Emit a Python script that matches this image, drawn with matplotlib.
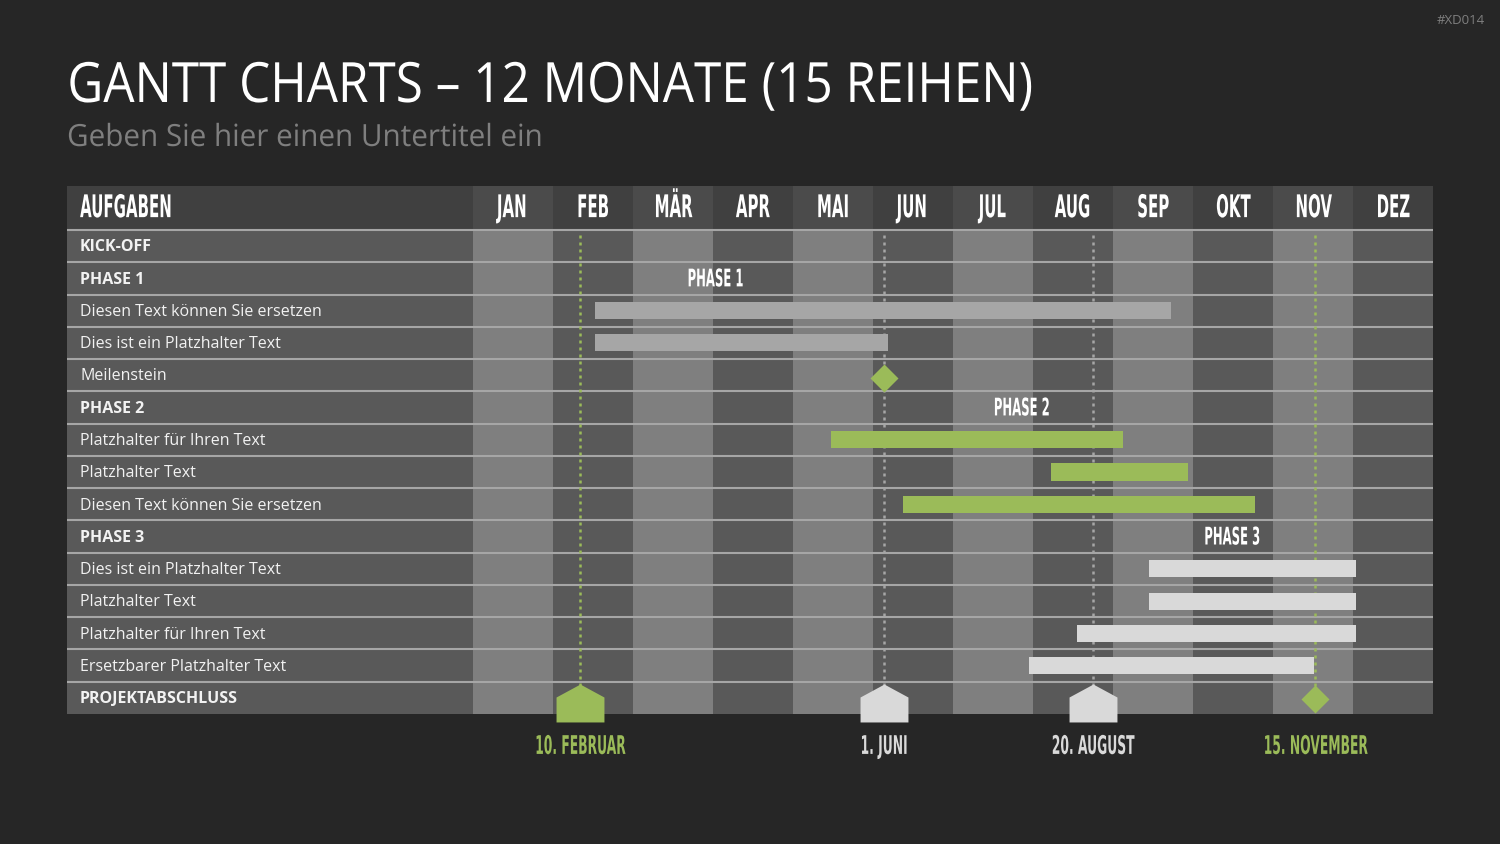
import matplotlib.pyplot as plt
from matplotlib.path import Path
from matplotlib.patheffects import AbstractPathEffect
from matplotlib.transforms import Affine2D
import numpy as np

# data
months = ["JAN", "FEB", "MÄR", "APR", "MAI", "JUN", "JUL", "AUG", "SEP", "OKT", "NOV", "DEZ"]
tasks = ["KICK-OFF", "PHASE 1", "Diesen Text können Sie ersetzen", "Dies ist ein Platzhalter Text",
         "Meilenstein", "PHASE 2", "Platzhalter für Ihren Text", "Platzhalter Text",
         "Diesen Text können Sie ersetzen", "PHASE 3", "Dies ist ein Platzhalter Text",
         "Platzhalter Text", "Platzhalter für Ihren Text", "Ersetzbarer Platzhalter Text",
         "PROJEKTABSCHLUSS"]
bold_rows = [0, 1, 5, 9, 14]

# bars in month units (0 = start of January)
p1_rows = [2, 3]
p1_start = [1.52, 1.52]
p1_end = [8.72, 5.19]
p2_rows = [6, 7, 8]
p2_start = [4.47, 7.22, 5.37]
p2_end = [8.12, 8.94, 9.77]
p3_rows = [10, 11, 12, 13]
p3_start = [8.45, 8.45, 7.55, 6.95]
p3_end = [11.04, 11.04, 11.04, 10.51]

phase_labels = ["PHASE 1", "PHASE 2", "PHASE 3"]
phase_rows = [1, 5, 9]
phase_x = [3.03, 6.86, 9.49]

milestone_row = 4
milestone_x = 5.14

end_dates = ["10. FEBRUAR", "1. JUNI", "20. AUGUST", "15. NOVEMBER"]
end_x = [1.34, 5.14, 7.75, 10.53]
end_kind = ["house", "house", "house", "diamond"]
end_color = ["green", "light", "light", "green"]

BG = "#262626"
GREEN = "#9bbb59"
LIGHT = "#d9d9d9"
GRAY = "#a6a6a6"
COND = ["DejaVu Sans"]
BODY = ["Open Sans", "DejaVu Sans"]
cmap = {"green": GREEN, "light": LIGHT}


class Squeeze(AbstractPathEffect):
    # narrow the glyphs horizontally (no condensed font available)
    def __init__(self, sx, anchor="center"):
        super().__init__()
        self.sx = sx
        self.anchor = anchor

    def draw_path(self, renderer, gc, tpath, affine, rgbFace=None):
        ext = tpath.get_extents(affine)
        x = ext.x0 if self.anchor == "left" else (ext.x0 + ext.x1) / 2
        t = affine + Affine2D().translate(-x, 0).scale(self.sx, 1).translate(x, 0)
        renderer.draw_path(gc, tpath, t, rgbFace)


SQ = [Squeeze(0.48)]
SQL = [Squeeze(0.48, "left")]

fig = plt.figure(figsize=(15, 8.44), dpi=100, facecolor=BG)
ax = fig.add_axes([67 / 1500, 130 / 844, 1366 / 1500, 528 / 844])
ax.set_facecolor(BG)
x0 = -406 / 80
ytop = -0.5 - 44 / 32.27
ax.set_xlim(x0, 12)
ax.set_ylim(14.5, ytop)
ax.axis("off")

# background blocks
ax.axvspan(x0, 0, color="#595959", lw=0, zorder=0)
for m in range(12):
    c = "#7f7f7f" if m % 2 == 0 else "#595959"
    ax.axvspan(m, m + 1, color=c, lw=0, zorder=0)
ax.fill_between([x0, 12], ytop, -0.5, color="#404040", lw=0, zorder=1)
for m in range(0, 12, 2):
    ax.fill_between([m, m + 1], ytop, -0.5, color="#4b4b4b", lw=0, zorder=1)

for i in range(15):
    ax.axhline(i - 0.5, color=GRAY, lw=1.5, zorder=2)

# header
hy = (ytop - 0.5) / 2 + 0.02
ax.text(x0 + 13 / 80, hy, "AUFGABEN", color="white", fontsize=22.5,
        fontweight="bold", family=COND, va="center", ha="left", path_effects=SQL)
for m, name in enumerate(months):
    ax.text(m + 0.5, hy, name, color="white", fontsize=22.5,
            fontweight="bold", family=COND, va="center", ha="center", path_effects=SQ)

# row labels
for i, t in enumerate(tasks):
    ax.text(x0 + 13 / 80, i + 0.04, t, color="#f2f2f2", fontsize=11.5, family=BODY,
            fontweight="bold" if i in bold_rows else "normal", va="center", ha="left", zorder=5)

# vertical dotted milestone lines
for x, c in zip(end_x, end_color):
    lc = GREEN if c == "green" else GRAY
    ax.plot([x, x], [-0.35, 13.9], color=lc, lw=1.8, ls=(0, (1.2, 1.6)), zorder=3)

# bars
h = 0.53
ax.barh(p1_rows, np.subtract(p1_end, p1_start), left=p1_start, height=h, color=GRAY, zorder=4)
ax.barh(p2_rows, np.subtract(p2_end, p2_start), left=p2_start, height=h, color=GREEN, zorder=4)
ax.barh(p3_rows, np.subtract(p3_end, p3_start), left=p3_start, height=h, color=LIGHT, zorder=4)

for lab, r, x in zip(phase_labels, phase_rows, phase_x):
    ax.text(x, r + 0.03, lab, color="white", fontsize=17.5, fontweight="bold", family=COND,
            va="center", ha="center", zorder=5, path_effects=SQ)

ax.plot(milestone_x, milestone_row + 0.08, marker="D", ms=14, color=GREEN, mec="none", zorder=5)

# end markers
house = Path([(0, 19), (24, 6), (24, -19), (-24, -19), (-24, 6), (0, 19)],
             [Path.MOVETO, Path.LINETO, Path.LINETO, Path.LINETO, Path.LINETO, Path.CLOSEPOLY])
for x, k, c in zip(end_x, end_kind, end_color):
    if k == "house":
        ax.plot(x, 14.16, marker=house, ms=34.5, color=cmap[c], mec="none", zorder=6, clip_on=False)
    else:
        ax.plot(x, 14.03, marker="D", ms=14, color=cmap[c], mec="none", zorder=6, clip_on=False)

for x, lab, c in zip(end_x, end_dates, end_color):
    ax.text(x, 15.52, lab, color=cmap[c], fontsize=18.5, fontweight="bold", family=COND,
            va="center", ha="center", clip_on=False, path_effects=SQ)

# titles
fig.text(67 / 1500, 1 - 102 / 844, "GANTT CHARTS – 12 MONATE (15 REIHEN)", color="white",
         fontsize=40, family=BODY, va="baseline", ha="left", path_effects=[Squeeze(0.89, "left")])
fig.text(67 / 1500, 1 - 146 / 844, "Geben Sie hier einen Untertitel ein", color="#7f7f7f",
         fontsize=22, family=BODY, va="baseline", ha="left", path_effects=[Squeeze(0.97, "left")])
fig.text(1485 / 1500, 1 - 20 / 844, "#XD014", color="#7f7f7f", fontsize=9.5,
         family=BODY, va="center", ha="right")

plt.savefig("out.png", dpi=100, facecolor=BG)
